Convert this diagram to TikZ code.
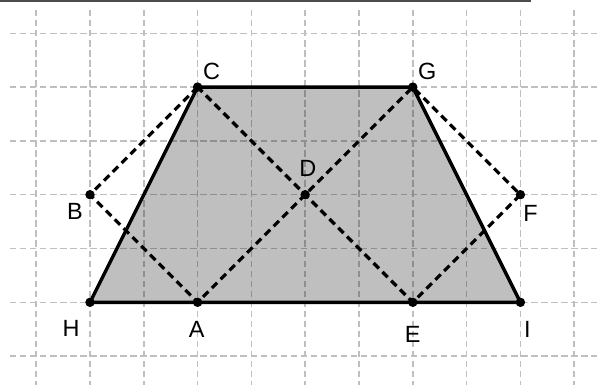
\documentclass[tikz,border=0pt]{standalone}
\usepackage{fontspec}
\setmainfont{Liberation Sans}
\usepackage{tikz}
\usetikzlibrary{calc}

\tikzset{
    gridline/.style={black!25, line width=0.75pt, dash pattern=on 3.4pt off 1.9pt},
    edge/.style={black, line width=1.8pt, line join=round},
    helpline/.style={black, line width=1.7pt, dash pattern=on 4pt off 2.6pt},
    pt/.style={circle, fill=black, inner sep=0pt, minimum size=5pt},
    lbl/.style={inner sep=0pt, font=\fontsize{12.4}{15}\selectfont}
}

\begin{document}
\begin{tikzpicture}
        \useasboundingbox (-1.673,-1.537) rectangle (9.424,5.619);
        \draw [black!70][line width=0.9pt](-1.673,5.603) -- (8.19,5.603);

        % grid
        \foreach \x in {-1,...,9}
            \draw [gridline](\x,5.433) -- (\x,-1.537);
        \foreach \y in {-1,...,5}
            \draw [gridline](-1.487,\y) -- (9.424,\y);

        % points
        \coordinate (H) at (0,0);
        \coordinate (A) at (2,0);
        \coordinate (E) at (6,0);
        \coordinate (I) at (8,0);
        \coordinate (B) at (0,2);
        \coordinate (D) at (4,2);
        \coordinate (F) at (8,2);
        \coordinate (C) at (2,4);
        \coordinate (G) at (6,4);

        \fill [black][fill opacity=0.25](H) -- (C) -- (G) -- (I) -- cycle;
        \draw [edge](H) -- (C) -- (G) -- (I) -- cycle;

        \draw [helpline](C) -- (B) -- (A) -- (D) -- (G) -- (F) -- (E) -- (D) -- (C);

        \foreach \p in {H,A,E,I,B,D,F,C,G}
            \node [pt] (dot\p) at (\p) {};

        \node [lbl] (labC) at (2.26,4.30) {C};
        \node [lbl] (labG) at (6.27,4.30) {G};
        \node [lbl] (labD) at (4.05,2.49) {D};
        \node [lbl] (labB) at (-0.28,1.685) {B};
        \node [lbl] (labF) at (8.19,1.65) {F};
        \node [lbl] (labH) at (-0.35,-0.49) {H};
        \node [lbl] (labA) at (1.985,-0.51) {A};
        \node [lbl] (labE) at (6.0,-0.6) {E};
        \node [lbl] (labI) at (8.13,-0.5) {I};
    \end{tikzpicture}
\end{document}
